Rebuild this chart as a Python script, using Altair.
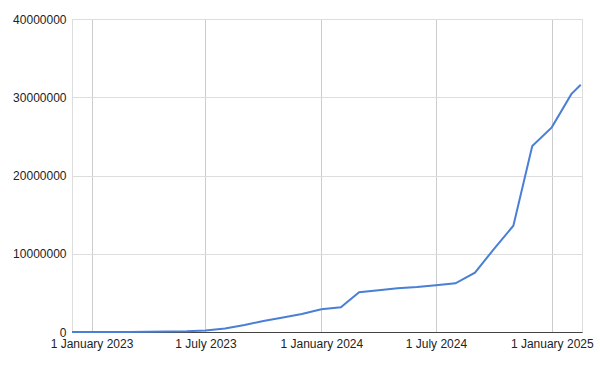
import altair as alt
import pandas as pd

dates = [
    "2022-12-01", "2023-01-01", "2023-02-01", "2023-03-01", "2023-04-01",
    "2023-05-01", "2023-06-01", "2023-07-01", "2023-08-01", "2023-09-01",
    "2023-10-01", "2023-11-01", "2023-12-01", "2024-01-01", "2024-02-01",
    "2024-03-01", "2024-04-01", "2024-05-01", "2024-06-01", "2024-07-01",
    "2024-08-01", "2024-09-01", "2024-10-01", "2024-11-01", "2024-12-01",
    "2025-01-01", "2025-02-01", "2025-02-16",
]
values = [
    0, 0, 0, 10000, 30000,
    60000, 100000, 200000, 450000, 900000,
    1400000, 1850000, 2300000, 2900000, 3150000,
    5080000, 5350000, 5580000, 5750000, 5980000,
    6220000, 7580000, 10600000, 13580000, 23770000,
    26150000, 30400000, 31600000,
]
tick_dates = [(2023, 1), (2023, 7), (2024, 1), (2024, 7), (2025, 1)]
y_ticks = [0, 10000000, 20000000, 30000000, 40000000]

df = pd.DataFrame({"date": dates, "value": values})

font = "Liberation Sans"

chart = (
    alt.Chart(df)
    .mark_line(color="#4a7fd6", strokeWidth=2)
    .encode(
        x=alt.X(
            "date:T",
            title=None,
            scale=alt.Scale(
                type="utc",
                domain=[
                    alt.DateTime(year=2022, month=12, date=1, utc=True),
                    alt.DateTime(year=2025, month=2, date=18, utc=True),
                ],
            ),
            axis=alt.Axis(
                values=[alt.DateTime(year=y, month=m, date=1, utc=True) for y, m in tick_dates],
                format="%-d %B %Y",
                labelFont=font,
                labelFontSize=12,
                labelColor="#222222",
                labelPadding=6,
                ticks=False,
                grid=True,
                gridColor="#cccccc",
                gridWidth=1,
                domainColor="#444444",
                domainWidth=1,
                labelOverlap=False,
                labelBound=False,
                labelFlush=False,
            ),
        ),
        y=alt.Y(
            "value:Q",
            title=None,
            scale=alt.Scale(domain=[0, 40000000], nice=False),
            axis=alt.Axis(
                values=y_ticks,
                format="d",
                labelFont=font,
                labelFontSize=12,
                labelColor="#222222",
                labelPadding=6,
                ticks=False,
                domain=False,
                grid=True,
                gridColor="#dddddd",
                gridWidth=1,
            ),
        ),
    )
    .properties(
        width=510,
        height=313,
        autosize=alt.AutoSizeParams(type="none"),
        padding={"left": 72, "top": 19, "right": 18, "bottom": 35},
    )
    .configure_view(stroke=None)
    .configure(background="white")
)

chart.save("out.html", embed_options={"renderer": "svg", "actions": False})
